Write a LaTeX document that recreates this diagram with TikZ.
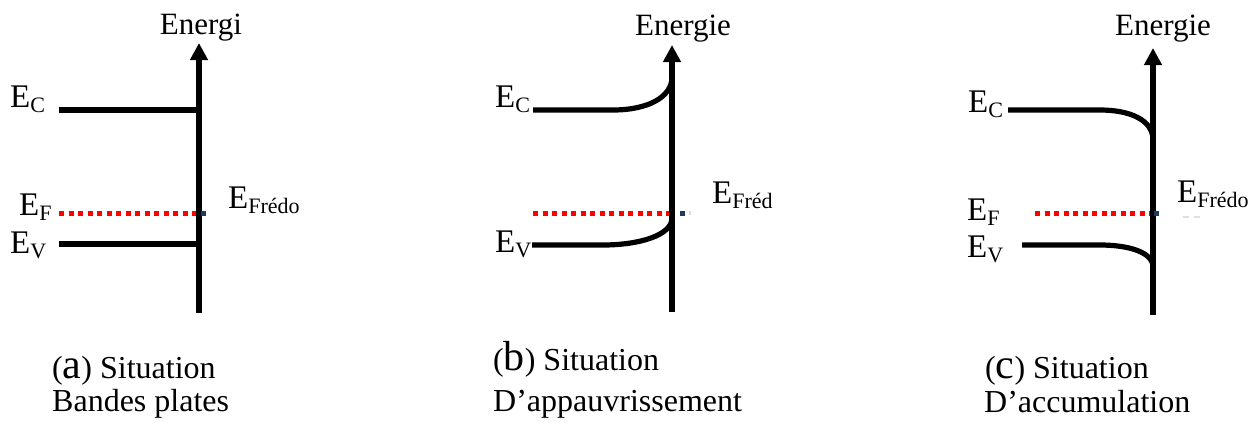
\documentclass[tikz,border=0pt]{standalone}
\usepackage{fontspec}
\setmainfont{Liberation Serif}
\usetikzlibrary{arrows.meta}
\newcommand{\Esb}[1]{E\raisebox{-5pt}{\fontsize{22}{22}\selectfont #1}}
\newcommand{\biglet}[1]{{\fontsize{42}{42}\selectfont #1}}
\tikzset{
  band/.style={line width=5.2pt, line cap=butt},
  axisline/.style={line width=5.2pt, -{Triangle[length=17pt,width=17pt]}},
  fermi/.style={red, line width=5pt, dash pattern=on 5pt off 4.5pt},
  navydot/.style={fill={rgb,255:red,31;green,56;blue,100}, inner sep=0pt, minimum size=5pt},
  lbl/.style={inner sep=0pt, anchor=base west, font=\fontsize{33}{38}\selectfont},
  ttl/.style={inner sep=0pt, anchor=base, font=\fontsize{31}{36}\selectfont},
  captxt/.style={inner sep=0pt, anchor=base west, font=\fontsize{32}{36}\selectfont},
}
\begin{document}
\begin{tikzpicture}[x=1pt,y=-1pt]
\useasboundingbox (0,0) rectangle (1257,423);
% ---------------- panel (a)
\coordinate (a-bot) at (199,313);
\coordinate (a-top) at (199,43);
\coordinate (a-c0) at (59,110);  \coordinate (a-c1) at (199,110);
\coordinate (a-f0) at (59,213);  \coordinate (a-f1) at (199,213);
\coordinate (a-v0) at (59,244);  \coordinate (a-v1) at (199,244);
\draw[band] (a-c0) -- (a-c1);
\draw[band] (a-v0) -- (a-v1);
\draw[fermi] (a-f0) -- (a-f1);
\draw[axisline] (a-bot) -- (a-top);
\node[navydot] (a-dot) at (203,213) {};
\node[ttl] (a-title) at (201,34) {Energi};
\node[lbl] (a-ec) at (10,107) {\Esb{C}};
\node[lbl] (a-ef) at (19,215) {\Esb{F}};
\node[lbl] (a-ev) at (10,253) {\Esb{V}};
\node[lbl] (a-efr) at (228,208) {\Esb{Frédo}};
\node[captxt] (a-cap1) at (52,378) {(\biglet{a}) Situation};
\node[captxt] (a-cap2) at (52,411) {Bandes plates};
% ---------------- panel (b)
\coordinate (b-bot) at (672,312);
\coordinate (b-top) at (672,45);
\coordinate (b-c0) at (533,110); \coordinate (b-c1) at (613,110); \coordinate (b-c2) at (672,77);
\coordinate (b-v0) at (532,245); \coordinate (b-v1) at (603,245); \coordinate (b-v2) at (672,218);
\coordinate (b-f0) at (533,213); \coordinate (b-f1) at (672,213);
\draw[fermi] (b-f0) -- (b-f1);
\draw[band] (b-c0) -- (b-c1) .. controls (648,110) and (672,97) .. (b-c2);
\draw[band] (b-v0) -- (b-v1) .. controls (640,245) and (672,235) .. (b-v2);
\draw[axisline] (b-bot) -- (b-top);
\node[navydot] (b-dot) at (682,213) {};
\node[fill=black!15, inner sep=0pt, minimum width=2pt, minimum height=4pt] (b-dot2) at (690,213) {};
\node[ttl] (b-title) at (683,35) {Energie};
\node[lbl] (b-ec) at (495,107) {\Esb{C}};
\node[lbl] (b-ev) at (495,252) {\Esb{V}};
\node[lbl] (b-efr) at (712,203) {\Esb{Fréd}};
\node[captxt] (b-cap1) at (493,370) {(\biglet{b}) Situation};
\node[captxt] (b-cap2) at (493,411) {D’appauvrissement};
% ---------------- panel (c)
\coordinate (c-bot) at (1153,315);
\coordinate (c-top) at (1153,48);
\coordinate (c-c0) at (1008,110); \coordinate (c-c1) at (1100,110); \coordinate (c-c2) at (1153,140);
\coordinate (c-v0) at (1022,245); \coordinate (c-v1) at (1100,245); \coordinate (c-v2) at (1153,267);
\coordinate (c-f0) at (1035,213); \coordinate (c-f1) at (1153,213);
\draw[fermi] (c-f0) -- (c-f1);
\draw[band] (c-c0) -- (c-c1) .. controls (1130,110) and (1153,120) .. (c-c2);
\draw[band] (c-v0) -- (c-v1) .. controls (1128,245) and (1153,252) .. (c-v2);
\draw[axisline] (c-bot) -- (c-top);
\node[navydot] (c-dot) at (1156,213) {};
\coordinate (c-g0) at (1183,217); \coordinate (c-g1) at (1201,217);
\draw[black!12, line width=1.2pt, dash pattern=on 6pt off 5pt] (c-g0) -- (c-g1);
\node[ttl] (c-title) at (1163,35) {Energie};
\node[lbl] (c-ec) at (968,112) {\Esb{C}};
\node[lbl] (c-ef) at (967,220) {\Esb{F}};
\node[lbl] (c-ev) at (967,257) {\Esb{V}};
\node[lbl] (c-efr) at (1177,202) {\Esb{Frédo}};
\node[captxt] (c-cap1) at (985,378) {(\biglet{c}) Situation};
\node[captxt] (c-cap2) at (984,412) {D’accumulation};
\end{tikzpicture}
\end{document}
